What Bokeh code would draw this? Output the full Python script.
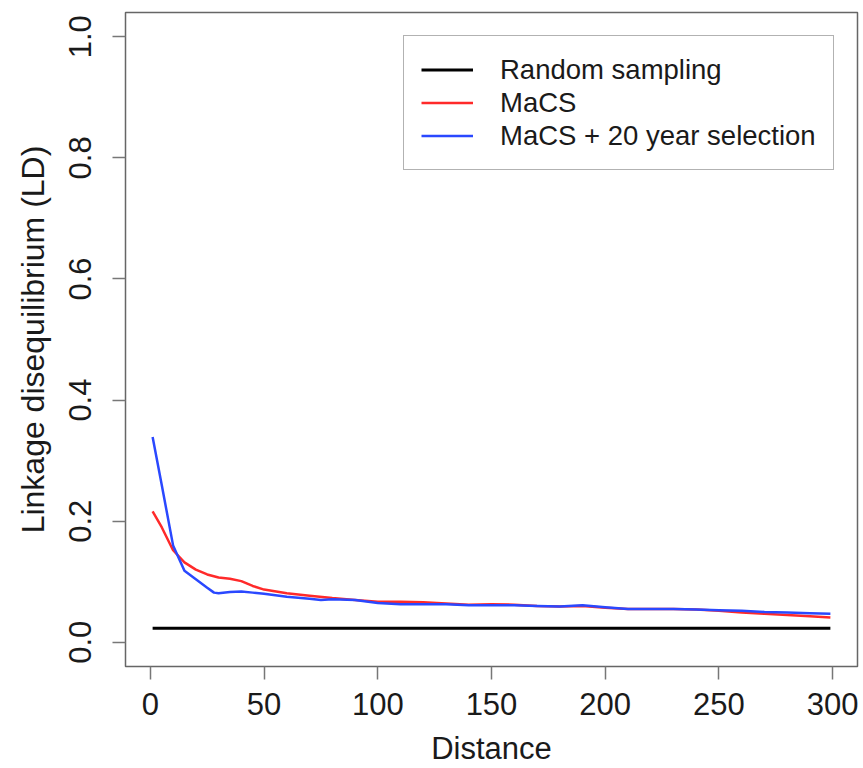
from bokeh.plotting import figure
from bokeh.models import Range1d, Legend, LegendItem, FixedTicker
from bokeh.embed import file_html
from bokeh.resources import INLINE

# ---- data ----
random_x = [1, 50, 100, 150, 200, 250, 299]
random_y = [0.023, 0.023, 0.023, 0.023, 0.023, 0.023, 0.023]

macs_x = [1, 5, 10, 15, 20, 25, 30, 35, 40, 45, 50, 60, 70, 80, 90, 100, 110, 120, 130,
          140, 150, 160, 170, 180, 190, 200, 210, 220, 230, 240, 250, 260, 270, 280, 290, 299]
macs_y = [0.216, 0.190, 0.152, 0.132, 0.120, 0.112, 0.107, 0.105, 0.101, 0.093, 0.087,
          0.081, 0.077, 0.073, 0.070, 0.067, 0.067, 0.066, 0.064, 0.062, 0.063, 0.062,
          0.060, 0.059, 0.060, 0.057, 0.055, 0.055, 0.055, 0.054, 0.052, 0.049, 0.047,
          0.045, 0.043, 0.041]

sel_x = [1, 5, 10, 15, 20, 25, 28, 30, 35, 40, 45, 50, 60, 70, 75, 80, 90, 100, 110, 120,
         130, 140, 150, 160, 170, 180, 190, 200, 210, 220, 230, 240, 250, 260, 270, 280,
         290, 299]
sel_y = [0.339, 0.260, 0.160, 0.118, 0.104, 0.090, 0.082, 0.081, 0.083, 0.084, 0.082,
         0.080, 0.075, 0.072, 0.070, 0.071, 0.070, 0.065, 0.063, 0.063, 0.063, 0.061,
         0.061, 0.061, 0.060, 0.059, 0.061, 0.058, 0.055, 0.055, 0.055, 0.054, 0.053,
         0.052, 0.050, 0.049, 0.048, 0.047]

x_ticks = [0, 50, 100, 150, 200, 250, 300]
y_ticks = [0.0, 0.2, 0.4, 0.6, 0.8, 1.0]
series_names = ["Random sampling", "MaCS", "MaCS + 20 year selection"]
series_colors = ["#000000", "#ff2a2a", "#2a48ff"]

FONT = "Liberation Sans"

p = figure(width=863, height=768, output_backend="svg", toolbar_location=None,
           x_range=Range1d(-10.92, 310.92), y_range=Range1d(-0.04, 1.04),
           min_border_left=125, min_border_right=6, min_border_top=12, min_border_bottom=102)
p.grid.visible = False
p.outline_line_color = "#666666"
p.outline_line_width = 1.5
p.background_fill_color = "white"
p.border_fill_color = "white"

# axes
for ax in (p.xaxis[0], p.yaxis[0]):
    ax.axis_line_color = None
    ax.major_tick_line_color = "#777777"
    ax.major_tick_line_width = 1.5
    ax.major_tick_out = 13
    ax.major_tick_in = 0
    ax.minor_tick_line_color = None
    ax.major_label_text_font = FONT
    ax.major_label_text_font_size = "31px"
    ax.major_label_text_color = "#1a1a1a"
    ax.axis_label_text_font = FONT
    ax.axis_label_text_font_style = "normal"
    ax.axis_label_text_color = "#1a1a1a"

p.xaxis.axis_label_text_font_size = "31px"
p.yaxis.axis_label_text_font_size = "32px"
p.xaxis.ticker = FixedTicker(ticks=x_ticks)
p.yaxis.ticker = FixedTicker(ticks=y_ticks)
p.yaxis.major_label_overrides = {t: f"{t:.1f}" for t in y_ticks}
p.yaxis.major_label_orientation = "vertical"
p.xaxis.axis_label = "Distance"
p.yaxis.axis_label = "Linkage disequilibrium (LD)"
p.xaxis.major_label_standoff = 13
p.xaxis.axis_label_standoff = 13
p.yaxis.major_label_standoff = 21
p.yaxis.axis_label_standoff = 16

r0 = p.line(random_x, random_y, line_color=series_colors[0], line_width=3)
r1 = p.line(macs_x, macs_y, line_color=series_colors[1], line_width=2.5)
r2 = p.line(sel_x, sel_y, line_color=series_colors[2], line_width=2.5)

legend = Legend(items=[LegendItem(label=series_names[0], renderers=[r0]),
                       LegendItem(label=series_names[1], renderers=[r1]),
                       LegendItem(label=series_names[2], renderers=[r2])],
                location=(278, 496), margin=0, padding=17, spacing=0,
                glyph_width=52, glyph_height=33, label_height=33, label_standoff=27,
                label_text_font=FONT, label_text_font_size="27.5px",
                label_text_color="#1a1a1a",
                border_line_color="#666666", border_line_width=1.5,
                background_fill_color="white", background_fill_alpha=1.0)
p.add_layout(legend)

open("out.html", "w").write(file_html(p, INLINE))
